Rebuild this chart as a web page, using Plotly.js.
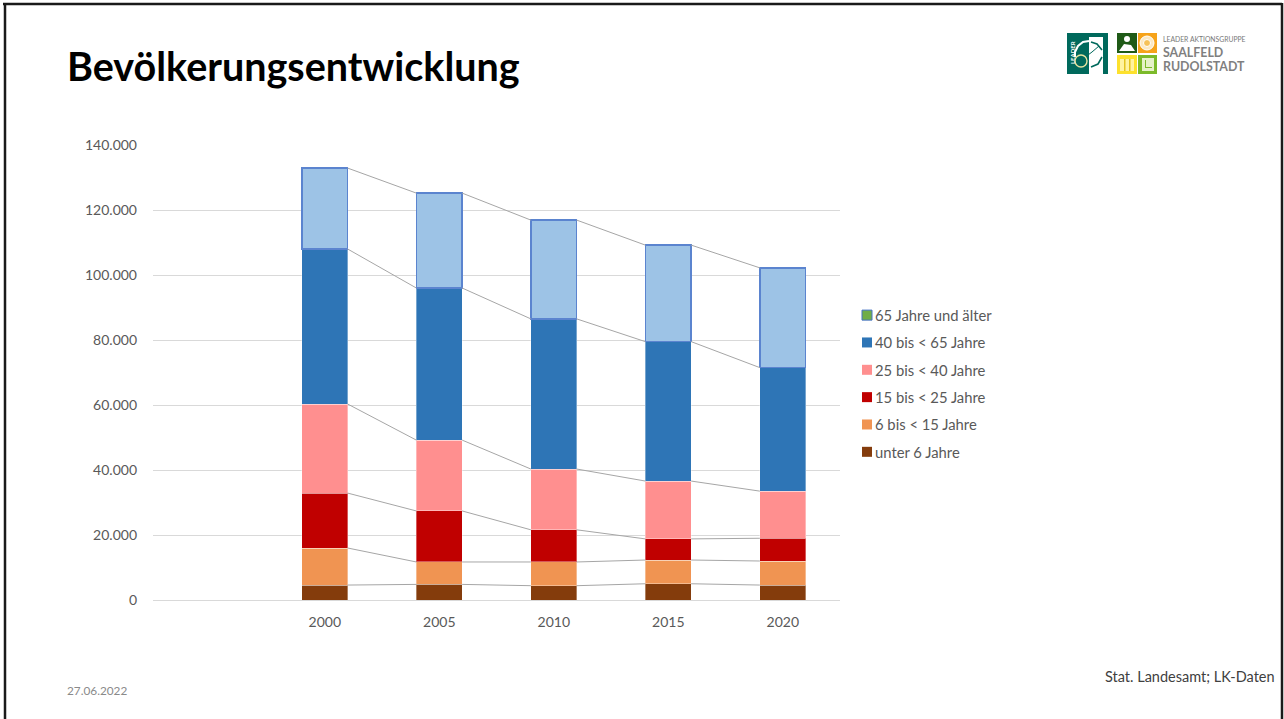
<!DOCTYPE html>
<html><head><meta charset="utf-8">
<script src="https://cdn.plot.ly/plotly-3.0.1.min.js"></script>
<style>html,body{margin:0;padding:0;background:#fff;overflow:hidden}#c{width:1284px;height:719px}</style>
</head><body><div id="c"></div>
<script>
const years = ['2000','2005','2010','2015','2020'];
const under6   = [4600, 4800, 4400, 5000, 4600];
const age6_15  = [11400, 6900, 7300, 7300, 7400];
const age15_25 = [16900, 15700, 9900, 6500, 7000];
const age25_40 = [27400, 21800, 18700, 17800, 14500];
const age40_65 = [47700, 46800, 46200, 42900, 38000];
const age65    = [24900, 29200, 30400, 29700, 30700];
const seriesNames = ['unter 6 Jahre','6 bis < 15 Jahre','15 bis < 25 Jahre','25 bis < 40 Jahre','40 bis < 65 Jahre','65 Jahre und älter'];
const seriesColors = ['#843c0c','#f09452','#c00000','#ff8f8f','#2e75b6','#9dc3e6'];
const legendColors = ['#843c0c','#f09452','#c00000','#ff8f8f','#2e75b6','#70ad47'];
const seriesValues = [under6, age6_15, age15_25, age25_40, age40_65, age65];

const BAR = 0.4;
const FONT = 'Lato, "Open Sans", sans-serif';
const idx = years.map((_, i) => i);
const traces = [];
seriesValues.forEach((vals, s) => {
  traces.push({type:'bar', x:idx, y:vals, name:seriesNames[s], width:BAR, showlegend:false, hoverinfo:'y+name',
    marker:{color:seriesColors[s], line: s===5 ? {color:'#5b84cf',width:1.5} : {color:'rgba(255,255,255,0.35)',width:1}}});
});
// connector lines between the stacks, from the cumulated values
let cum = years.map(() => 0);
seriesValues.forEach(vals => {
  cum = cum.map((c,i) => c + vals[i]);
  const xs = [], ys = [];
  for (let i = 0; i < years.length-1; i++) {
    xs.push(i+BAR/2, i+1-BAR/2, null);
    ys.push(cum[i], cum[i+1], null);
  }
  traces.push({type:'scatter', mode:'lines', x:xs, y:ys, showlegend:false, hoverinfo:'skip', line:{color:'#a6a6a6',width:1}});
});
// legend entries, top to bottom
for (let s = 5; s >= 0; s--) {
  traces.push({type:'scatter', mode:'markers', x:[null], y:[null], name:seriesNames[s], legendgroup:'g'+s, hoverinfo:'skip',
    marker:{symbol:'square', size:10, color:legendColors[s], line:{color: s===5 ? '#4472c4' : legendColors[s], width: s===5 ? 1 : 0}}});
}

const L=153, R=840, T=145, B=600;
const fx = p => (p-L)/(R-L), fy = p => (B-p)/(B-T);
const rect = (x0,y0,x1,y1,fill) => ({type:'rect',xref:'paper',yref:'paper',layer:'above',x0:fx(x0),x1:fx(x1),y0:fy(y0),y1:fy(y1),fillcolor:fill,line:{width:0}});
const circle = (cx,cy,r,fill,lineCol,w) => ({type:'circle',xref:'paper',yref:'paper',layer:'above',x0:fx(cx-r),x1:fx(cx+r),y0:fy(cy-r),y1:fy(cy+r),fillcolor:fill,line:{color:lineCol||fill,width:w||0}});
const poly = (pts,fill,lineCol,w) => ({type:'path',xref:'paper',yref:'paper',layer:'above',
  path:pts.map((p,i)=>(i?'L':'M')+fx(p[0])+' '+fy(p[1])).join(' ')+(fill?' Z':''),fillcolor:fill||'rgba(0,0,0,0)',line:{color:lineCol||fill,width:w||0}});
const lineS = (x0,y0,x1,y1,col,w) => ({type:'line',xref:'paper',yref:'paper',layer:'above',x0:fx(x0),x1:fx(x1),y0:fy(y0),y1:fy(y1),line:{color:col,width:w}});

const shapes = [
  // slide frame
  lineS(3,4,1282,4,'#1a1a1a',2.5), lineS(5,3,5,719,'#1a1a1a',2.5), lineS(1282,3,1282,719,'#1a1a1a',2.5),
  // LEADER logo
  rect(1067,33,1108,74,'#00695c'), rect(1089,37,1103,74,'#ffffff'),
  poly([[1089,41],[1083,42],[1078,46],[1075,52],[1075,57]],null,'#ffffff',2),
  poly([[1091,42],[1097,44],[1102,50]],null,'#00695c',1.6),
  poly([[1091,67],[1098,64],[1102,57]],null,'#00695c',1.6),
  poly([[1084,58],[1092,52],[1099,46]],null,'#00695c',1),
  circle(1081,61,6,'#00695c','#e5e2a0',1.4),
  // region logo
  rect(1117,33,1137,53,'#1f5a17'), rect(1138,33,1157,53,'#f6a31a'),
  rect(1117,55,1137,74,'#fde12d'), rect(1138,55,1157,74,'#7cba2a'),
  circle(1147,43,7,'#fbe9c4','#ffffff',1), circle(1147,43,3.5,'#f6c25a','#ffffff',1),
  circle(1127,39,3,'#ffffff'), poly([[1119,51],[1124,44],[1131,45],[1135,51]],'#ffffff'),
  rect(1120,59,1134,71,'#fff3a0'), rect(1124,59,1125.5,71,'#e3c320'), rect(1129,59,1130.5,71,'#e3c320'),
  rect(1142,58,1154,71,'#e6f2c8'), rect(1145,60,1146,68,'#7cba2a'), rect(1145,67,1152,68,'#7cba2a')
];

const ann = (x,y,text,size,color,opt) => Object.assign({xref:'paper',yref:'paper',x:fx(x),y:fy(y),text,showarrow:false,xanchor:'left',yanchor:'middle',borderpad:0,font:{family:FONT,size,color}},opt||{});
const annotations = [
  ann(66,690,'27.06.2022',11.8,'#8a8a8a'),
  ann(1275.5,676,'Stat. Landesamt; LK-Daten',14.5,'#404040',{xanchor:'right'}),
  ann(1162,39,'LEADER AKTIONSGRUPPE',6.8,'#777777'),
  ann(1162,52.5,'<b>SAALFELD</b>',12.4,'#7f7f7f'),
  ann(1162,66.5,'<b>RUDOLSTADT</b>',12.4,'#7f7f7f'),
  ann(1072,53,'<b>LEADER</b>',6,'#ffffff',{textangle:-90,xanchor:'center'})
];

const layout = {
  width:1284, height:719, autosize:false,
  margin:{l:L,r:1284-R,t:T,b:719-B,pad:0},
  paper_bgcolor:'#fff', plot_bgcolor:'#fff', barmode:'stack', separators:',.',
  title:{text:'<b>Bevölkerungsentwicklung</b>', xref:'container', yref:'container', x:67/1284, xanchor:'left', y:1-67/719, yanchor:'middle', font:{family:FONT,size:39.5,color:'#000'}},
  font:{family:FONT,size:14,color:'#595959'},
  xaxis:{range:[-1.5,4.5], tickmode:'array', tickvals:idx, ticktext:years, showgrid:false, zeroline:false, showline:true, linecolor:'#d9d9d9', linewidth:1, ticks:'', ticklabelstandoff:9, tickfont:{family:FONT,size:14,color:'#595959'}},
  yaxis:{range:[0,140000], tick0:0, dtick:20000, tickformat:',d', showgrid:true, gridcolor:'#d9d9d9', gridwidth:1, zeroline:false, showline:false, ticks:'', ticklabelstandoff:15, tickfont:{family:FONT,size:14,color:'#595959'}},
  legend:{x:fx(847), xanchor:'left', y:fy(299), yanchor:'top', traceorder:'grouped', tracegroupgap:5.1, font:{family:FONT,size:14.8,color:'#595959'}, bgcolor:'rgba(0,0,0,0)', itemclick:false, itemdoubleclick:false},
  shapes, annotations, showlegend:true
};
Plotly.newPlot('c', traces, layout, {displayModeBar:false, responsive:false}).then(() => {
  // the reference puts the legend labels right beside the swatches
  document.querySelectorAll('#c .legendtext').forEach(t => t.setAttribute('x', 28));
});
</script></body></html>
